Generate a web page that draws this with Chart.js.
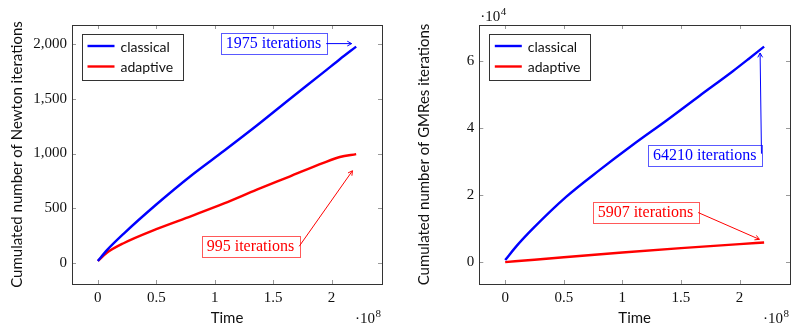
<!DOCTYPE html>
<html>
<head>
<meta charset="utf-8">
<script src="https://cdn.jsdelivr.net/npm/chart.js@4/dist/chart.umd.min.js"></script>
<style>
  html, body { margin: 0; background: #fff; width: 791px; height: 326px; overflow: hidden; }
  .panel { position: absolute; top: 0; height: 326px; }
</style>
</head>
<body>
<div class="panel" style="left:0;width:400px"><canvas id="newton" width="400" height="326"></canvas></div>
<div class="panel" style="left:400px;width:391px"><canvas id="gmres" width="391" height="326"></canvas></div>
<script>
// simulated time (s)
const timeNewton = [0, 8e6, 2.2e7, 5e7, 8e7, 1.08e8, 1.36e8, 1.64e8, 1.93e8, 2.07e8, 2.21e8];
const newtonClassical = [20, 121, 268, 535, 800, 1025, 1255, 1495, 1740, 1860, 1975];
const newtonAdaptive = [20, 97, 182, 310, 430, 545, 670, 790, 915, 968, 995];

const timeGmresClassical = [0, 1e7, 2.4e7, 5.2e7, 8.1e7, 1.09e8, 1.38e8, 1.66e8, 1.94e8, 2.08e8, 2.21e8];
const gmresClassical = [700, 5000, 10200, 19500, 27600, 35000, 42300, 49600, 56800, 60600, 64210];
const timeGmresAdaptive = [0, 2.5e7, 5e7, 1e8, 1.5e8, 2e8, 2.21e8];
const gmresAdaptive = [100, 800, 1550, 2950, 4250, 5450, 5907];

const timeTicks = [0, 0.5e8, 1e8, 1.5e8, 2e8];
const newtonTicks = [0, 500, 1000, 1500, 2000];
const gmresTicks = [0, 20000, 40000, 60000];

const seriesNames = ['classical', 'adaptive'];
const seriesColors = ['#0000ff', '#ff0000'];

const serif = '"Liberation Serif", "DejaVu Serif", serif';
const sans = 'Lato, "DejaVu Sans", sans-serif';

function points(xs, ys) {
  return xs.map((x, i) => ({ x, y: ys[i] }));
}

function arrow(ctx, x1, y1, x2, y2) {
  const ang = Math.atan2(y2 - y1, x2 - x1);
  ctx.beginPath();
  ctx.moveTo(x1, y1);
  ctx.lineTo(x2, y2);
  ctx.moveTo(x2 - 5 * Math.cos(ang - 0.5), y2 - 5 * Math.sin(ang - 0.5));
  ctx.lineTo(x2, y2);
  ctx.lineTo(x2 - 5 * Math.cos(ang + 0.5), y2 - 5 * Math.sin(ang + 0.5));
  ctx.stroke();
}

// draws "·10^n" with a raised exponent
function powerLabel(ctx, x, y, exp) {
  ctx.fillStyle = '#111';
  ctx.textBaseline = 'alphabetic';
  ctx.textAlign = 'left';
  ctx.font = '15px ' + serif;
  ctx.fillText('·10', x, y);
  const w = ctx.measureText('·10').width;
  ctx.font = '11px ' + serif;
  ctx.fillText(String(exp), x + w + 0.5, y - 6);
}

const pgfPlugin = {
  id: 'pgfFrame',
  afterDatasetsDraw(chart, args, opts) {
    const { ctx, chartArea: a, scales: { x, y } } = chart;
    ctx.save();
    // inner tick marks on all four sides
    ctx.strokeStyle = '#999';
    ctx.lineWidth = 1;
    ctx.beginPath();
    x.ticks.forEach(t => {
      const px = Math.round(x.getPixelForValue(t.value)) + 0.5;
      ctx.moveTo(px, a.bottom); ctx.lineTo(px, a.bottom - 4);
      ctx.moveTo(px, a.top); ctx.lineTo(px, a.top + 4);
    });
    y.ticks.forEach(t => {
      const py = Math.round(y.getPixelForValue(t.value)) + 0.5;
      ctx.moveTo(a.left, py); ctx.lineTo(a.left + 4, py);
      ctx.moveTo(a.right, py); ctx.lineTo(a.right - 4, py);
    });
    ctx.stroke();
    ctx.strokeStyle = '#333';
    ctx.strokeRect(Math.round(a.left) + 0.5, Math.round(a.top) + 0.5,
      Math.round(a.right - a.left), Math.round(a.bottom - a.top));

    // legend
    const lx = a.left + 9.5, ly = a.top + 8.5;
    ctx.fillStyle = '#fff';
    ctx.fillRect(lx, ly, 101, 46);
    ctx.strokeStyle = '#333';
    ctx.strokeRect(Math.round(lx) + 0.5, Math.round(ly) + 0.5, 101, 46);
    ctx.font = '14px ' + sans;
    ctx.textBaseline = 'middle';
    ctx.textAlign = 'left';
    seriesNames.forEach((name, i) => {
      const ry = ly + 12.5 + i * 20.5;
      ctx.strokeStyle = seriesColors[i];
      ctx.lineWidth = 2.4;
      ctx.beginPath();
      ctx.moveTo(lx + 6, ry); ctx.lineTo(lx + 33, ry);
      ctx.stroke();
      ctx.fillStyle = '#111';
      ctx.fillText(name, lx + 39, ry + 1);
    });

    // value callouts at the end of each series
    opts.notes.forEach(n => {
      const ds = chart.data.datasets[n.series].data;
      const last = ds[ds.length - 1];
      const ex = x.getPixelForValue(last.x), ey = y.getPixelForValue(last.y);
      const text = last.y + ' iterations';
      ctx.font = '16px ' + serif;
      const w = ctx.measureText(text).width + 10, h = 21;
      const cx = ex + n.box[0], cy = ey + n.box[1];
      const color = seriesColors[n.series];
      ctx.fillStyle = '#fff';
      ctx.fillRect(cx - w / 2, cy - h / 2, w, h);
      ctx.strokeStyle = color;
      ctx.globalAlpha = 0.65;
      ctx.lineWidth = 1;
      ctx.strokeRect(Math.round(cx - w / 2) + 0.5, Math.round(cy - h / 2) + 0.5, Math.round(w), h);
      ctx.globalAlpha = 1;
      ctx.fillStyle = color;
      ctx.textAlign = 'center';
      ctx.textBaseline = 'middle';
      ctx.fillText(text, cx, cy + 1);
      ctx.lineWidth = 1;
      arrow(ctx, cx + w / 2, cy + n.from, ex + n.tip[0], ey + n.tip[1]);
    });

    // axis multipliers
    powerLabel(ctx, a.right - 27, 323, 8);
    if (opts.yPower) powerLabel(ctx, a.left + 1, 21, opts.yPower);
    ctx.restore();
  }
};

function makeChart(id, sets, yTitle, yRange, yTicks, yFmt, leftWidth, titlePad, notes, yPower, rightPad) {
  return new Chart(document.getElementById(id), {
    type: 'line',
    data: {
      datasets: sets.map((s, i) => ({
        label: seriesNames[i],
        data: s,
        borderColor: seriesColors[i],
        borderWidth: 2.4,
        pointRadius: 0,
        cubicInterpolationMode: 'monotone',
        fill: false
      }))
    },
    options: {
      responsive: false,
      animation: false,
      layout: { padding: { left: 0, right: rightPad, top: 25, bottom: 0 } },
      plugins: {
        legend: { display: false },
        tooltip: { enabled: false },
        pgfFrame: { notes, yPower }
      },
      scales: {
        x: {
          type: 'linear',
          min: -0.221e8,
          max: 2.431e8,
          grid: { display: false, drawTicks: false },
          border: { display: false },
          afterFit: s => { s.height = 42; },
          afterBuildTicks: s => { s.ticks = timeTicks.map(value => ({ value })); },
          ticks: {
            padding: 5,
            color: '#111',
            font: { family: serif, size: 15 },
            maxRotation: 0,
            autoSkip: false,
            callback: v => String(v / 1e8)
          },
          title: {
            display: true,
            text: 'Time',
            color: '#111',
            font: { family: sans, size: 15, lineHeight: 1 },
            padding: { top: 0, bottom: 0 }
          }
        },
        y: {
          type: 'linear',
          min: yRange[0],
          max: yRange[1],
          grid: { display: false, drawTicks: false },
          border: { display: false },
          afterFit: s => { s.width = leftWidth; },
          afterBuildTicks: s => { s.ticks = yTicks.map(value => ({ value })); },
          ticks: {
            padding: 5,
            color: '#111',
            font: { family: serif, size: 15 },
            autoSkip: false,
            callback: yFmt
          },
          title: {
            display: true,
            text: yTitle,
            color: '#111',
            font: { family: sans, size: 15, lineHeight: 1 },
            padding: { top: titlePad, bottom: 0 }
          }
        }
      }
    },
    plugins: [pgfPlugin]
  });
}

makeChart('newton',
  [points(timeNewton, newtonClassical), points(timeNewton, newtonAdaptive)],
  'Cumulated number of Newton iterations',
  [-190, 2172], newtonTicks, v => v.toLocaleString('en-US'), 72, 9.5,
  [
    { series: 0, box: [-82.7, -3.5], from: 0.5, tip: [-4.5, -3] },
    { series: 1, box: [-105.7, 92.2], from: 0, tip: [-3.7, 16.7] }
  ], null, 18);

makeChart('gmres',
  [points(timeGmresClassical, gmresClassical), points(timeGmresAdaptive, gmresAdaptive)],
  'Cumulated number of GMRes iterations',
  [-6421, 70631], gmresTicks, v => String(v / 1e4), 79.3, 16.5,
  [
    { series: 0, box: [-59.4, 108.6], from: -1.5, tip: [-4, 6.4] },
    { series: 1, box: [-118.7, -30.3], from: 0.3, tip: [-4.7, -3.2] }
  ], 4, 1);
</script>
</body>
</html>
